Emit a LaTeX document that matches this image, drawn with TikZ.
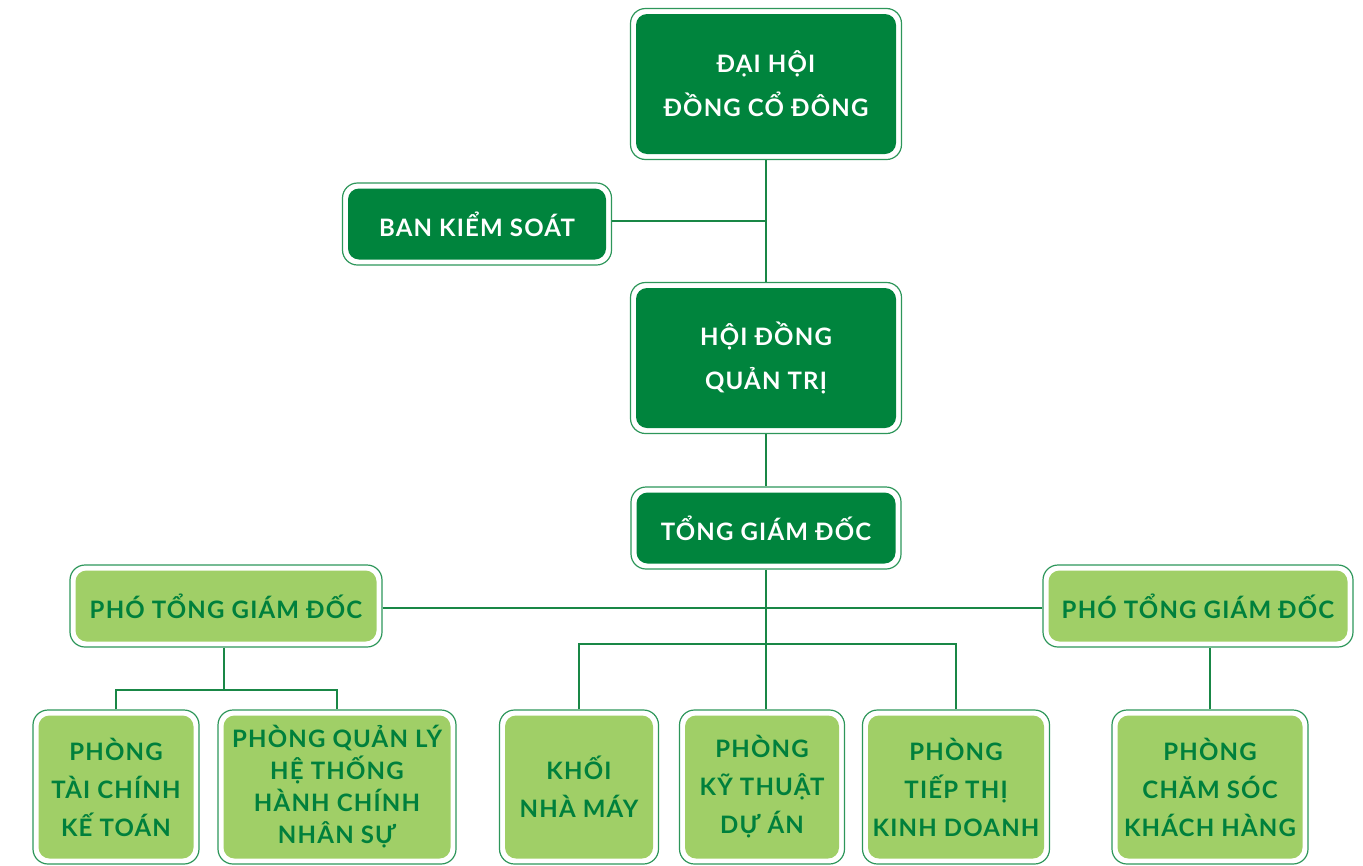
\documentclass[tikz,border=0pt]{standalone}
\usepackage{fontspec}
\setmainfont{Lato}[LetterSpace=5]
\usepackage{tikz}

\definecolor{darkfill}{RGB}{0,132,61}
\definecolor{lightfill}{RGB}{160,207,103}
\definecolor{textgreen}{RGB}{0,128,60}
\definecolor{rim}{RGB}{45,150,90}
\definecolor{wire}{RGB}{25,135,70}

\tikzset{
  box/.style={draw=rim, line width=1.2pt, rounded corners=15pt, inner sep=0pt,
    align=center, font=\bfseries\fontsize{24}{40}\selectfont,
    path picture={\fill[#1, rounded corners=11pt]
      ([shift={(5.5pt,5.5pt)}]path picture bounding box.south west) rectangle
      ([shift={(-5.5pt,-5.5pt)}]path picture bounding box.north east);}},
  darkbox/.style={box=darkfill, text=white},
  lightbox/.style={box=lightfill, text=textgreen},
  gap/.style={font=\bfseries\fontsize{24}{#1}\selectfont},
  link/.style={draw=wire, line width=1.3pt},
}

\begin{document}
\begin{tikzpicture}[x=1pt,y=-1pt]
\useasboundingbox (0,0) rectangle (1363,865);

% top of the chart
\node[darkbox, minimum width=271pt, minimum height=151pt, gap=44pt] (dhd) at (766,84) {ĐẠI HỘI\\ĐỒNG CỔ ĐÔNG};
\node[darkbox, minimum width=269pt, minimum height=82pt] (bks) at (477,224) {BAN KIỂM SOÁT};
\node[darkbox, minimum width=271pt, minimum height=151pt, gap=44pt] (hdqt) at (766,358) {HỘI ĐỒNG\\QUẢN TRỊ};
\node[darkbox, minimum width=270pt, minimum height=82pt] (tgd) at (766,528) {TỔNG GIÁM ĐỐC};

% deputies
\node[lightbox, minimum width=312pt, minimum height=82pt] (ptgdL) at (226,606) {PHÓ TỔNG GIÁM ĐỐC};
\node[lightbox, minimum width=310pt, minimum height=82pt] (ptgdR) at (1198,606) {PHÓ TỔNG GIÁM ĐỐC};

% departments
\node[lightbox, minimum width=166pt, minimum height=154pt, gap=38pt] (tck) at (116,787) {PHÒNG\\TÀI CHÍNH\\KẾ TOÁN};
\node[lightbox, minimum width=238pt, minimum height=154pt, gap=32pt] (pql) at (337,787) {PHÒNG QUẢN LÝ\\HỆ THỐNG\\HÀNH CHÍNH\\NHÂN SỰ};
\node[lightbox, minimum width=159pt, minimum height=154pt, gap=38pt] (khoi) at (579,787) {KHỐI\\NHÀ MÁY};
\node[lightbox, minimum width=165pt, minimum height=154pt, gap=38pt] (kt) at (762,787) {PHÒNG\\KỸ THUẬT\\DỰ ÁN};
\node[lightbox, minimum width=187pt, minimum height=154pt, gap=38pt] (ttkd) at (956,787) {PHÒNG\\TIẾP THỊ\\KINH DOANH};
\node[lightbox, minimum width=196pt, minimum height=154pt, gap=38pt] (cskh) at (1210,787) {PHÒNG\\CHĂM SÓC\\KHÁCH HÀNG};

\coordinate (forkM) at (766,644);
\coordinate (forkL) at (224,690);

% connectors
\draw[link] (dhd) -- (hdqt);
\draw[link] ([yshift=3pt]bks.east) -- ([yshift=3pt]bks.east -| dhd.south);
\draw[link] (hdqt) -- (tgd);
\draw[link] (tgd.south) -- (tgd.south |- kt.north);
\draw[link] ([yshift=-2pt]ptgdL.east) -- ([yshift=-2pt]ptgdR.west);
\draw[link] (khoi.north) |- (forkM) -| (ttkd.north);
\draw[link] (ptgdL.south -| forkL) -- (forkL);
\draw[link] (tck.north) |- (forkL) -| (pql.north);
\draw[link] (cskh.north) -- (cskh.north |- ptgdR.south);
\end{tikzpicture}
\end{document}
